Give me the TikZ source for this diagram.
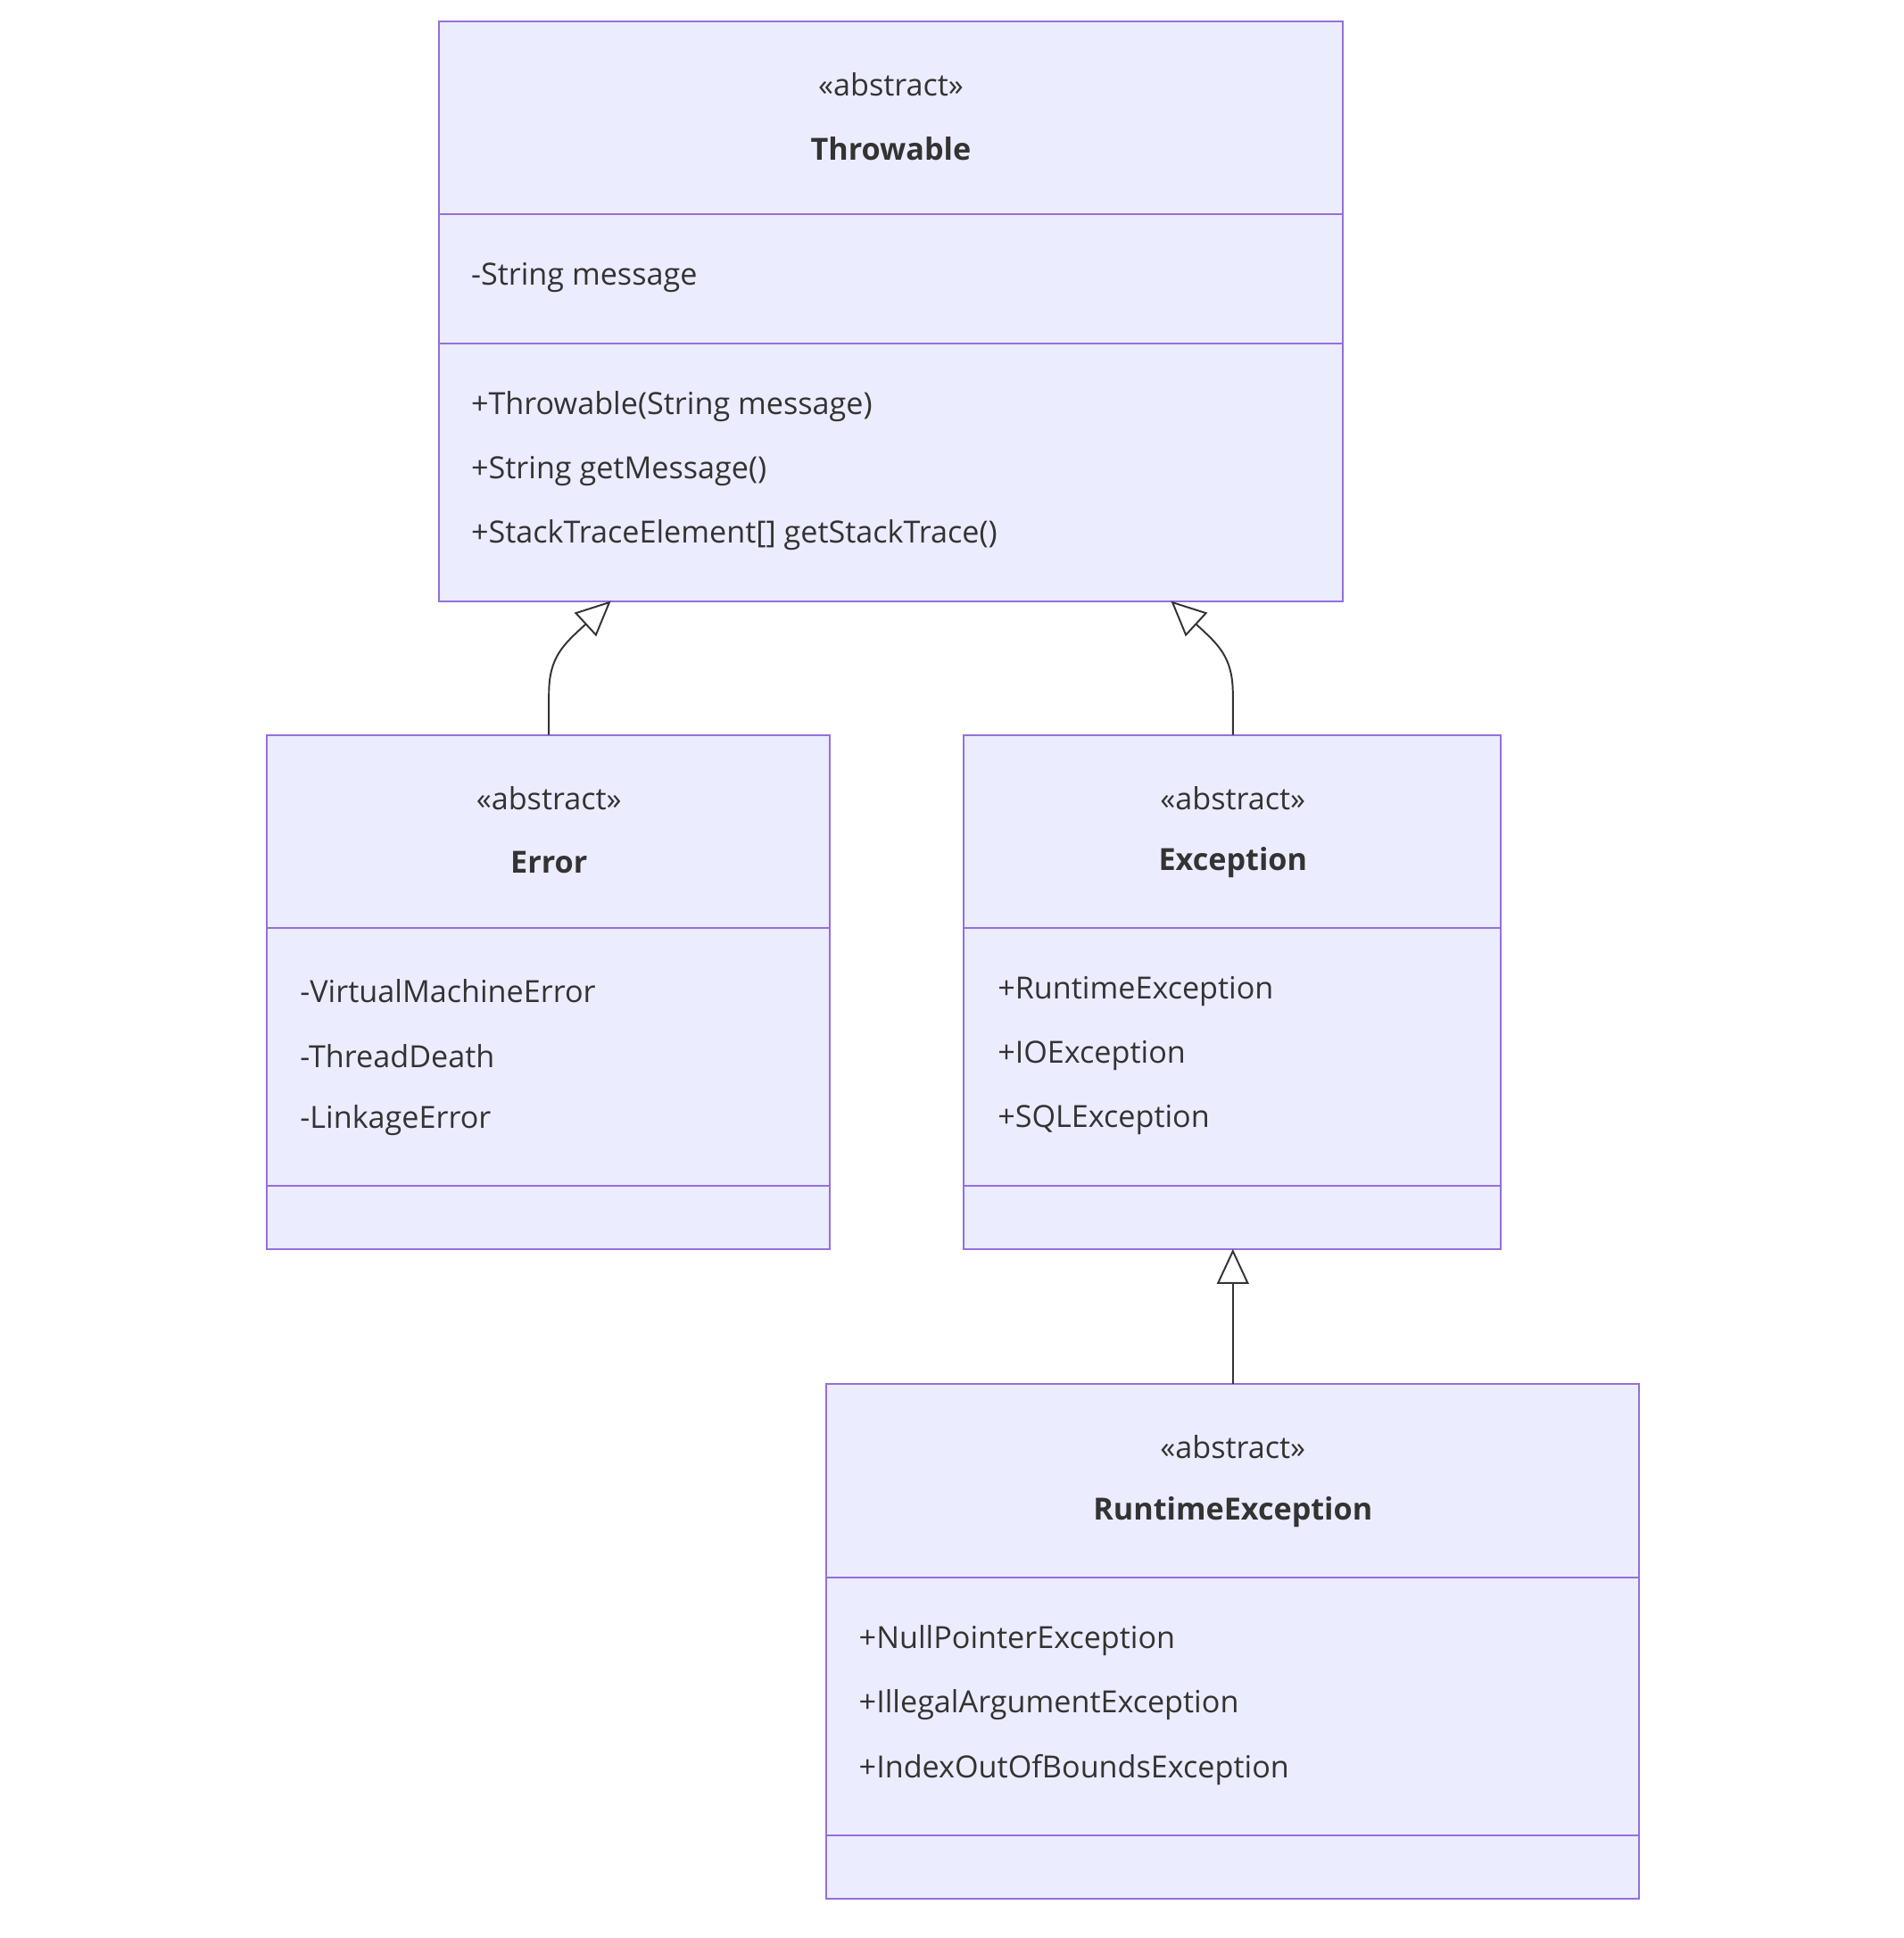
\documentclass[tikz,border=0pt]{standalone}
\usepackage{fontspec}
\setmainfont{Open Sans}
\usetikzlibrary{arrows.meta}
\definecolor{boxfill}{HTML}{ECECFF}
\definecolor{boxline}{HTML}{9370DB}
\definecolor{ink}{HTML}{333333}
\tikzset{
  classbox/.style={draw=boxline, fill=boxfill, line width=1.2pt},
  divider/.style={draw=boxline, line width=1.2pt},
  member/.style={anchor=west, inner sep=0pt, text=ink, font=\fontsize{21}{25}\selectfont},
  title/.style={inner sep=0pt, text=ink, font=\fontsize{21}{25}\selectfont},
  inherit/.style={draw=ink, line width=1.2pt, -{Triangle[open, fill=white, length=24pt, width=22pt]}}
}
\begin{document}
\begin{tikzpicture}[x=0.03cm, y=-0.03cm]
\useasboundingbox (0,0) rectangle (1536,1564);
% Throwable
\draw [classbox] (354,17) rectangle (1084,485);
\draw [divider] (354,173) -- (1084,173);
\draw [divider] (354,277) -- (1084,277);
\node [title] (thrst) at (719,68) {«abstract»};
\node [title] (thrnm) at (719,120) {\bfseries Throwable};
\node [member] (thra1) at (380,224) {-String message};
\node [member] (thrm1) at (380,328) {+Throwable(String message)};
\node [member] (thrm2) at (380,380) {+String getMessage()};
\node [member] (thrm3) at (380,432) {+StackTraceElement[] getStackTrace()};
% Error
\draw [classbox] (215,593) rectangle (670,1008);
\draw [divider] (215,749) -- (670,749);
\draw [divider] (215,957) -- (670,957);
\node [title] (errst) at (443,644) {«abstract»};
\node [title] (errnm) at (443,696) {\bfseries Error};
\node [member] (erra1) at (242,800) {-VirtualMachineError};
\node [member] (erra2) at (242,852) {-ThreadDeath};
\node [member] (erra3) at (242,904) {-LinkageError};
% Exception
\draw [classbox] (778,593) rectangle (1211,1008);
\draw [divider] (778,749) -- (1211,749);
\draw [divider] (778,957) -- (1211,957);
\node [title] (excst) at (995,644) {«abstract»};
\node [title] (excnm) at (995,696) {\bfseries Exception};
\node [member] (exca1) at (805,800) {+RuntimeException};
\node [member] (exca2) at (805,852) {+IOException};
\node [member] (exca3) at (805,904) {+SQLException};
% RuntimeException
\draw [classbox] (667,1117) rectangle (1323,1532);
\draw [divider] (667,1273) -- (1323,1273);
\draw [divider] (667,1481) -- (1323,1481);
\node [title] (runst) at (995,1168) {«abstract»};
\node [title] (runnm) at (995,1220) {\bfseries RuntimeException};
\node [member] (runa1) at (693,1324) {+NullPointerException};
\node [member] (runa2) at (693,1376) {+IllegalArgumentException};
\node [member] (runa3) at (693,1428) {+IndexOutOfBoundsException};
% Vererbung
\coordinate (errtop) at (443,593);
\coordinate (exctop) at (995,593);
\coordinate (runtop) at (995,1117);
\coordinate (thrin1) at (493,485);
\coordinate (thrin2) at (945,485);
\coordinate (excin) at (995,1008);
\draw [inherit] (errtop) -- (443,560) .. controls (443,530) and (455,520) .. (thrin1);
\draw [inherit] (exctop) -- (995,560) .. controls (995,530) and (983,520) .. (thrin2);
\draw [inherit] (runtop) -- (excin);
\end{tikzpicture}
\end{document}
